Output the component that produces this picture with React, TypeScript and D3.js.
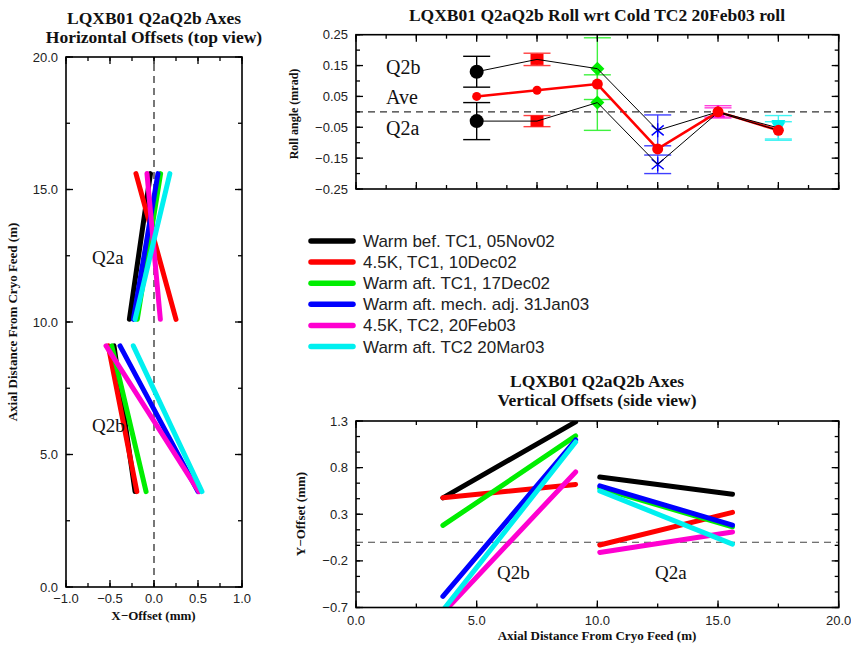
import React from 'react';
import * as d3 from 'd3';

// ---------- data ----------
const seriesNames = [
  'Warm bef. TC1, 05Nov02',
  '4.5K, TC1, 10Dec02',
  'Warm aft. TC1, 17Dec02',
  'Warm aft. mech. adj. 31Jan03',
  '4.5K, TC2, 20Feb03',
  'Warm aft. TC2 20Mar03',
];
const seriesColors = ['#000000', '#ff0000', '#00ee00', '#0000ff', '#ff00d0', '#00f0f0'];

// axial extent (m) of each magnet
const q2aAxial = [10.1, 15.6];
const q2bAxial = [3.6, 9.1];

// horizontal offsets (mm) at the two ends of each magnet
const horizQ2a = [
  [-0.28, -0.04],
  [0.25, -0.205],
  [-0.19, 0.075],
  [-0.235, 0.045],
  [0.072, -0.08],
  [-0.215, 0.18],
];
const horizQ2b = [
  [-0.215, -0.455],
  [-0.195, -0.52],
  [-0.09, -0.48],
  [0.5, -0.386],
  [0.51, -0.545],
  [0.545, -0.235],
];

// vertical offsets (mm)
const vertQ2b = [
  [0.476, 1.29],
  [0.476, 0.62],
  [0.18, 1.14],
  [-0.58, 1.096],
  [-0.76, 0.754],
  [-0.73, 1.075],
];
const vertQ2a = [
  [0.7, 0.515],
  [-0.03, 0.32],
  [0.58, 0.166],
  [0.604, 0.184],
  [-0.11, 0.11],
  [0.55, -0.02],
];

// roll (mrad)
const rollX = [2, 3, 4, 5, 6, 7];
const rollQ2b = [0.13, 0.17, 0.14, -0.06, 0.0, -0.052];
const rollQ2bErr = [0.05, 0.02, 0.1, 0.05, 0.02, 0.04];
const rollQ2a = [-0.03, -0.03, 0.03, -0.17, -0.002, -0.06];
const rollQ2aErr = [0.06, 0.018, 0.09, 0.03, 0.015, 0.028];
const rollAve = [0.05, 0.07, 0.09, -0.12, 0.0, -0.06];
const rollMarkers = ['circle', 'square', 'diamond', 'asterisk', 'triangle', 'triangleDown'];

// tick labels
const leftXTicks = [-1, -0.5, 0, 0.5, 1];
const leftYTicks = [0, 5, 10, 15, 20];
const rollYTicks = [-0.25, -0.15, -0.05, 0.05, 0.15, 0.25];
const vertXTicks = [0, 5, 10, 15, 20];
const vertYTicks = [-0.7, -0.2, 0.3, 0.8, 1.3];

// ---------- helpers ----------
const SANS = "'Liberation Sans', Arial, sans-serif";
const SERIF = "'Liberation Serif', 'Times New Roman', serif";

const fmt = (v: number, d: number) => {
  const s = Math.abs(v).toFixed(d);
  return (v < -1e-9 ? '\u2212' : '') + s;
};

function range(a: number, b: number, step: number) {
  const out: number[] = [];
  for (let v = a; v <= b + step * 1e-6; v += step) out.push(+v.toFixed(6));
  return out;
}

type FrameProps = {
  x: d3.ScaleLinear<number, number>;
  y: d3.ScaleLinear<number, number>;
  xMajor: number[];
  xMinor: number[];
  yMajor: number[];
  yMinor: number[];
  xLabels?: string[];
  yLabels?: string[];
  xLabelDy?: number;
};

function Frame({ x, y, xMajor, xMinor, yMajor, yMinor, xLabels, yLabels, xLabelDy = 16 }: FrameProps) {
  const [x0, x1] = x.range();
  const [y0, y1] = y.range(); // y0 bottom, y1 top
  const M = 7;
  const m = 4;
  const els: React.ReactNode[] = [];
  xMinor.forEach((v, i) => {
    const px = x(v);
    els.push(<line key={'xm' + i} x1={px} x2={px} y1={y0} y2={y0 - m} />);
    els.push(<line key={'xmt' + i} x1={px} x2={px} y1={y1} y2={y1 + m} />);
  });
  xMajor.forEach((v, i) => {
    const px = x(v);
    els.push(<line key={'xM' + i} x1={px} x2={px} y1={y0} y2={y0 - M} />);
    els.push(<line key={'xMt' + i} x1={px} x2={px} y1={y1} y2={y1 + M} />);
  });
  yMinor.forEach((v, i) => {
    const py = y(v);
    els.push(<line key={'ym' + i} x1={x0} x2={x0 + m} y1={py} y2={py} />);
    els.push(<line key={'ymr' + i} x1={x1} x2={x1 - m} y1={py} y2={py} />);
  });
  yMajor.forEach((v, i) => {
    const py = y(v);
    els.push(<line key={'yM' + i} x1={x0} x2={x0 + M} y1={py} y2={py} />);
    els.push(<line key={'yMr' + i} x1={x1} x2={x1 - M} y1={py} y2={py} />);
  });
  return (
    <g>
      <g stroke="#000" strokeWidth={1.3}>{els}</g>
      <rect x={x0} y={y1} width={x1 - x0} height={y0 - y1} fill="none" stroke="#000" strokeWidth={1.6} />
      <g fontFamily={SANS} fontSize={13} fill="#222">
        {xLabels &&
          xMajor.map((v, i) => (
            <text key={'xl' + i} x={x(v)} y={y0 + xLabelDy} textAnchor="middle">
              {xLabels[i]}
            </text>
          ))}
        {yLabels &&
          yMajor.map((v, i) => (
            <text key={'yl' + i} x={x0 - 8} y={y(v) + 4.6} textAnchor="end">
              {yLabels[i]}
            </text>
          ))}
      </g>
    </g>
  );
}

function Marker({ type, cx, cy, color }: { type: string; cx: number; cy: number; color: string }) {
  const t = `translate(${cx},${cy})`;
  switch (type) {
    case 'circle':
      return <circle cx={cx} cy={cy} r={7} fill={color} />;
    case 'square':
      return <rect x={cx - 6.5} y={cy - 5.5} width={13} height={11} fill={color} />;
    case 'diamond':
      return <path transform={t} d="M0,-7L7,0L0,7L-7,0Z" fill={color} />;
    case 'asterisk':
      return <path transform={t} d="M0,-7V7M-6,-5L6,5M-6,5L6,-5" stroke={color} strokeWidth={1.4} fill="none" />;
    case 'triangle':
      return <path transform={t} d="M0,-7L7,5L-7,5Z" fill={color} />;
    case 'triangleDown':
      return <path transform={t} d="M-7,-8L7,-8L0,3Z" fill={color} />;
    default:
      return null;
  }
}

export default function App() {
  // ---------- left panel: horizontal offsets ----------
  const lx = d3.scaleLinear().domain([-1, 1]).range([66, 242]);
  const ly = d3.scaleLinear().domain([0, 20]).range([587, 57]);

  // ---------- top right: roll ----------
  const rx = d3.scaleLinear().domain([0, 8]).range([356, 838.7]);
  const ry = d3.scaleLinear().domain([-0.25, 0.25]).range([189, 34.7]);

  // ---------- bottom right: vertical offsets ----------
  const vx = d3.scaleLinear().domain([0, 20]).range([356, 838.7]);
  const vy = d3.scaleLinear().domain([-0.7, 1.3]).range([607.5, 421]);

  const rollLine = d3
    .line<number>()
    .x((_, i) => rx(rollX[i]))
    .y((d) => ry(d));

  const legendY0 = 241;
  const legendDy = 21.1;
  const TITLE = 17.5;
  const AXT = 13;

  return (
    <svg
      width={851}
      height={647}
      style={{ position: 'absolute', left: 0, top: 0, background: '#fff' }}
      xmlns="http://www.w3.org/2000/svg"
    >
      <defs>
        <clipPath id="vclip">
          <rect x={vx(0)} y={vy(1.3)} width={vx(20) - vx(0)} height={vy(-0.7) - vy(1.3)} />
        </clipPath>
      </defs>
      <rect x={0} y={0} width={851} height={647} fill="#fff" />

      {/* ===== Left panel ===== */}
      <g fontFamily={SERIF} fontWeight="bold" fontSize={TITLE} fill="#111" textAnchor="middle">
        <text x={154} y={24}>LQXB01 Q2aQ2b Axes</text>
        <text x={154} y={42.5}>Horizontal Offsets (top view)</text>
      </g>
      <line x1={lx(0)} x2={lx(0)} y1={ly(0)} y2={ly(20)} stroke="#555" strokeWidth={1.6} strokeDasharray="7,5" />
      <g strokeWidth={5} strokeLinecap="round" fill="none">
        {horizQ2a.map((d, i) => (
          <line key={'ha' + i} x1={lx(d[0])} y1={ly(q2aAxial[0])} x2={lx(d[1])} y2={ly(q2aAxial[1])} stroke={seriesColors[i]} />
        ))}
        {horizQ2b.map((d, i) => (
          <line key={'hb' + i} x1={lx(d[0])} y1={ly(q2bAxial[0])} x2={lx(d[1])} y2={ly(q2bAxial[1])} stroke={seriesColors[i]} />
        ))}
      </g>
      <Frame
        x={lx}
        y={ly}
        xMajor={leftXTicks}
        xMinor={range(-1, 1, 0.25)}
        yMajor={leftYTicks}
        yMinor={range(0, 20, 2.5)}
        xLabels={leftXTicks.map((v) => fmt(v, 1))}
        yLabels={leftYTicks.map((v) => fmt(v, 1))}
        xLabelDy={15.5}
      />
      <g fontFamily={SERIF} fontSize={19} fill="#111">
        <text x={92} y={263.5}>Q2a</text>
        <text x={92} y={432}>Q2b</text>
      </g>
      <g fontFamily={SERIF} fontWeight="bold" fontSize={AXT} fill="#111" textAnchor="middle">
        <text x={153.5} y={620}>X{'\u2212'}Offset (mm)</text>
        <text transform="translate(17,322) rotate(-90)">Axial Distance From Cryo Feed (m)</text>
      </g>

      {/* ===== Top right: roll ===== */}
      <text x={597} y={21} textAnchor="middle" fontFamily={SERIF} fontWeight="bold" fontSize={TITLE} fill="#111">
        LQXB01 Q2aQ2b Roll wrt Cold TC2 20Feb03 roll
      </text>
      <line x1={rx(0)} x2={rx(8)} y1={ry(0)} y2={ry(0)} stroke="#333" strokeWidth={1.2} strokeDasharray="7,5" />
      {/* error bars */}
      <g strokeWidth={1.4} fill="none">
        {rollX.map((xv, i) => {
          const px = rx(xv);
          const bars = [
            [rollQ2b[i], rollQ2bErr[i]],
            [rollQ2a[i], rollQ2aErr[i]],
          ];
          return (
            <g key={'eb' + i} stroke={seriesColors[i]} opacity={i === 0 ? 1 : 0.75}>
              {bars.map(([v, e], k) => (
                <g key={k}>
                  <line x1={px} x2={px} y1={ry(v - e)} y2={ry(v + e)} />
                  <line x1={px - 13.5} x2={px + 13.5} y1={ry(v - e)} y2={ry(v - e)} />
                  <line x1={px - 13.5} x2={px + 13.5} y1={ry(v + e)} y2={ry(v + e)} />
                </g>
              ))}
            </g>
          );
        })}
      </g>
      {/* markers */}
      {rollX.map((xv, i) => (
        <g key={'mk' + i}>
          <Marker type={rollMarkers[i]} cx={rx(xv)} cy={ry(rollQ2b[i])} color={seriesColors[i]} />
          <Marker type={rollMarkers[i]} cx={rx(xv)} cy={ry(rollQ2a[i])} color={seriesColors[i]} />
        </g>
      ))}
      <path d={rollLine(rollAve) || ''} fill="none" stroke="#ff0000" strokeWidth={2.6} />
      <path d={rollLine(rollQ2b) || ''} fill="none" stroke="#000" strokeWidth={1} />
      <path d={rollLine(rollQ2a) || ''} fill="none" stroke="#000" strokeWidth={1} />
      {rollAve.map((v, i) => (
        <circle key={'av' + i} cx={rx(rollX[i])} cy={ry(v)} r={i < 2 ? 4.5 : 5.5} fill="#ff0000" />
      ))}
      <Frame
        x={rx}
        y={ry}
        xMajor={range(0, 8, 1)}
        xMinor={range(0, 8, 0.5)}
        yMajor={rollYTicks}
        yMinor={range(-0.25, 0.25, 0.05)}
        yLabels={rollYTicks.map((v) => fmt(v, 2))}
      />
      <g fontFamily={SERIF} fontSize={20} fill="#111">
        <text x={386} y={73.5}>Q2b</text>
        <text x={386} y={103.5}>Ave</text>
        <text x={386} y={135}>Q2a</text>
      </g>
      <text
        transform="translate(298,114) rotate(-90)"
        textAnchor="middle"
        fontFamily={SERIF}
        fontWeight="bold"
        fontSize={12}
        fill="#111"
      >
        Roll angle (mrad)
      </text>

      {/* ===== Legend ===== */}
      {seriesNames.map((name, i) => {
        const yy = legendY0 + i * legendDy;
        return (
          <g key={'lg' + i}>
            <line x1={311} x2={353} y1={yy} y2={yy} stroke={seriesColors[i]} strokeWidth={5.5} strokeLinecap="round" />
            <text x={363} y={yy + 6} fontFamily={SANS} fontSize={17} fill="#222">
              {name}
            </text>
          </g>
        );
      })}

      {/* ===== Bottom right: vertical offsets ===== */}
      <g fontFamily={SERIF} fontWeight="bold" fontSize={TITLE} fill="#111" textAnchor="middle">
        <text x={597} y={387}>LQXB01 Q2aQ2b Axes</text>
        <text x={597} y={405.5}>Vertical Offsets (side view)</text>
      </g>
      <line x1={vx(0)} x2={vx(20)} y1={vy(0)} y2={vy(0)} stroke="#444" strokeWidth={1.2} strokeDasharray="7,5" />
      <g strokeWidth={5} strokeLinecap="round" fill="none" clipPath="url(#vclip)">
        {vertQ2b.map((d, i) => (
          <line key={'vb' + i} x1={vx(q2bAxial[0])} y1={vy(d[0])} x2={vx(q2bAxial[1])} y2={vy(d[1])} stroke={seriesColors[i]} />
        ))}
        {vertQ2a.map((d, i) => (
          <line key={'va' + i} x1={vx(q2aAxial[0])} y1={vy(d[0])} x2={vx(q2aAxial[1])} y2={vy(d[1])} stroke={seriesColors[i]} />
        ))}
      </g>
      <Frame
        x={vx}
        y={vy}
        xMajor={vertXTicks}
        xMinor={range(0, 20, 2.5)}
        yMajor={vertYTicks}
        yMinor={range(-0.7, 1.3, 0.5 / 3)}
        xLabels={vertXTicks.map((v) => fmt(v, 1))}
        yLabels={vertYTicks.map((v) => fmt(v, 1))}
        xLabelDy={17}
      />
      <g fontFamily={SERIF} fontSize={19} fill="#111">
        <text x={497} y={579}>Q2b</text>
        <text x={655} y={579}>Q2a</text>
      </g>
      <g fontFamily={SERIF} fontWeight="bold" fontSize={AXT} fill="#111" textAnchor="middle">
        <text x={597} y={640}>Axial Distance From Cryo Feed (m)</text>
        <text transform="translate(305,514) rotate(-90)">Y{'\u2212'}Offset (mm)</text>
      </g>
    </svg>
  );
}
